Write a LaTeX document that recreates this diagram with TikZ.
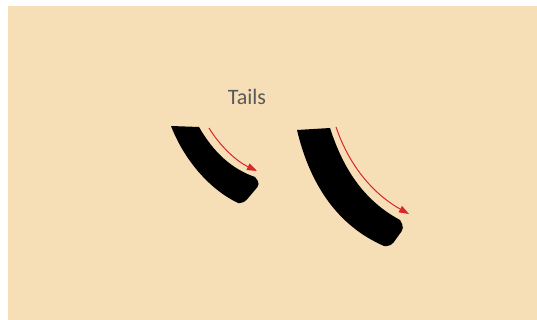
\documentclass[tikz,border=0pt]{standalone}
\usepackage{fontspec}
\setmainfont{Carlito}
\usetikzlibrary{arrows.meta}
\definecolor{sandbg}{HTML}{F6DEB6}
\definecolor{tailred}{HTML}{D8262A}
\definecolor{labelgray}{HTML}{595959}

\begin{document}
\begin{tikzpicture}[x=1pt, y=-1pt,
  tailshape/.style={fill=black, draw=none},
  motion/.style={draw=tailred, -{Triangle[length=10pt, width=7pt]}, line width=1pt},
  title/.style={font=\fontsize{22}{24}\selectfont, text=labelgray},
]
  % ========= canvas =========
  \useasboundingbox (0,0) rectangle (537,320);
  \fill[sandbg] (8,6) rectangle (537,320);

  \node[title] (tails) at (247,97) {Tails};

  % ========= short tail (left) =========
  \path[tailshape] (171,126) -- (199,127)
        .. controls (214,153) and (232,169) .. (255,177)
        [rounded corners=4pt] -- (260,184) -- (244,203) [sharp corners] -- (238,203)
        .. controls (207,188) and (183,157) .. (171,126) -- cycle;

  \coordinate (m1s) at (209,128);
  \coordinate (m1e) at (257,171);
  \draw[motion] (m1s) .. controls (220,146) and (236,161) .. (m1e);

  % ========= long tail (right) =========
  \path[tailshape] (297,130) -- (330,128)
        .. controls (343,168) and (363,200) .. (400,220)
        [rounded corners=4pt] -- (404,228) -- (391,246) [sharp corners] -- (384,246)
        .. controls (338,226) and (310,185) .. (297,130) -- cycle;

  \coordinate (m2s) at (336,127);
  \coordinate (m2e) at (409,214);
  \draw[motion] (m2s) .. controls (350,168) and (375,195) .. (m2e);

\end{tikzpicture}
\end{document}
